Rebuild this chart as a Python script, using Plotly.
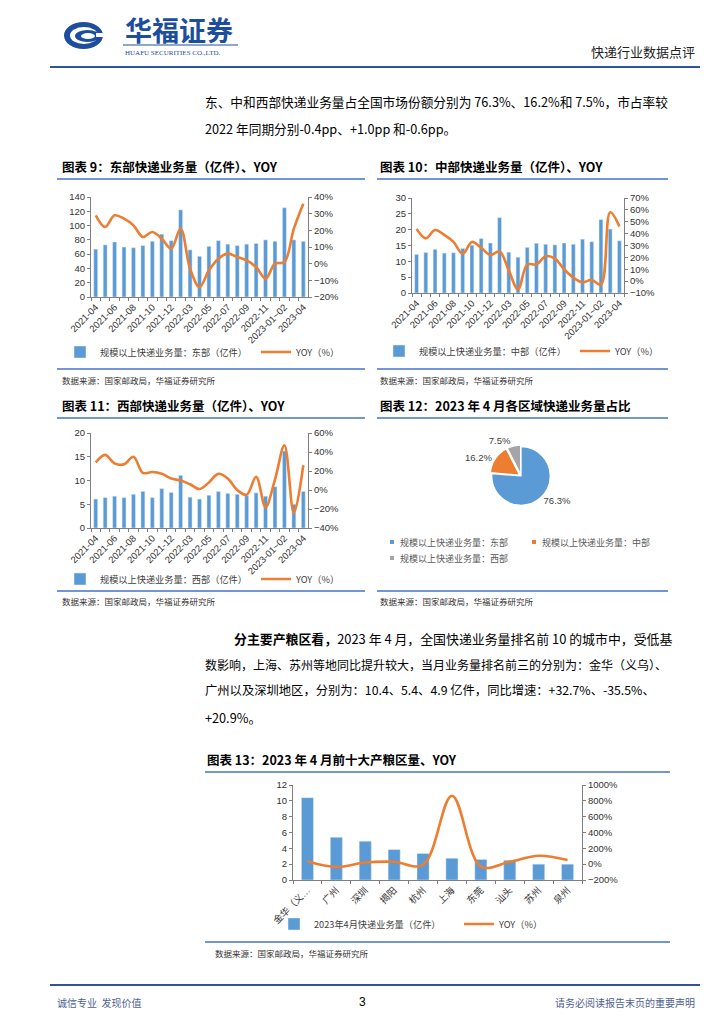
import plotly.graph_objects as go

# ---------------- data ----------------
months = ["2021-04", "2021-05", "2021-06", "2021-07", "2021-08", "2021-09", "2021-10",
          "2021-11", "2021-12", "2022-01~02", "2022-03", "2022-04", "2022-05", "2022-06",
          "2022-07", "2022-08", "2022-09", "2022-10", "2022-11", "2022-12", "2023-01~02",
          "2023-03", "2023-04"]
month_ticklabels = ["2021-04", "", "2021-06", "", "2021-08", "", "2021-10", "", "2021-12", "",
                    "2022-03", "", "2022-05", "", "2022-07", "", "2022-09", "", "2022-11", "",
                    "2023-01~02", "", "2023-04"]

east_vol = [67, 73, 77, 70, 69, 72, 78, 88, 79, 122, 66, 57, 71, 79, 74, 72, 74, 75, 80, 78, 125, 80, 78]
east_yoy = [29, 22, 29, 27, 23, 16, 19, 15, 9, 21, -3, -14, -4, 3, 6, 4, 2, -2, -9, 0, 1, 21, 36]

central_vol = [12.2, 12.8, 13.8, 12.6, 12.7, 14.1, 15.1, 17.2, 15.8, 23.8, 12.9, 11.3, 14.4, 15.7,
               15.4, 15.2, 15.8, 15.4, 17.0, 16.2, 23.2, 20.2, 16.5]
central_yoy = [44, 36, 43, 39, 33, 23, 33, 28, 22, 25, 9, -7, 14, 14, 21, 19, 10, 3, -1, 1, -3, 58, 46]

west_vol = [6.1, 6.4, 6.7, 6.4, 7.1, 7.7, 6.4, 8.3, 7.5, 11.1, 6.5, 6.1, 6.9, 7.7, 7.3, 7.1, 6.8,
            7.4, 6.7, 8.7, 16.2, 5.0, 7.7]
west_yoy = [29, 37, 28, 27, 35, 18, 19, 17, 12, 10, 6, 1, 8, 17, 12, 0, -5, 14, -18, 11, 47, -24, 26]

regions = ["规模以上快递业务量：东部", "规模以上快递业务量：中部", "规模以上快递业务量：西部"]
region_share = [76.3, 16.2, 7.5]

cities = ["金华（义乌）", "广州", "深圳", "揭阳", "杭州", "上海", "东莞", "汕头", "苏州", "泉州"]
city_ticklabels = ["金华（义…", "广州", "深圳", "揭阳", "杭州", "上海", "东莞", "汕头", "苏州", "泉州"]
city_vol = [10.4, 5.4, 4.9, 3.85, 3.35, 2.75, 2.6, 2.5, 2.0, 2.0]
city_yoy = [32.7, -35.5, 20.9, 30, -10, 865, -30, 30, 107, 52]

# ---------------- helpers ----------------
PAGE_W, PAGE_H = 724, 1024
OFF = 8                      # default page margin around the plot div
W, H = PAGE_W - 2 * OFF, PAGE_H - 2 * OFF
CJK = "Noto Sans CJK SC"
NUMFONT = "Liberation Sans, Noto Sans CJK SC"
BLUE = "#5B9BD5"
ORANGE = "#ED7D31"
GRAY = "#A5A5A5"
NAVY = "#1D4E9E"
RULE = "#4472C4"


def X(p):
    return (p - OFF) / W


def Y(p):
    return 1 - (p - OFF) / H


def txt(x, y, s, size=13, color="#000000", anchor="left", bold=False, family=CJK, yanchor="middle"):
    return dict(x=X(x), y=Y(y), xref="paper", yref="paper",
                text=("<b>%s</b>" % s if bold else s), showarrow=False,
                xanchor=anchor, yanchor=yanchor,
                font=dict(size=size, color=color, family=family))


def hline(x0, x1, y, color=RULE, width=1.5):
    return dict(type="line", xref="paper", yref="paper", x0=X(x0), x1=X(x1),
                y0=Y(y), y1=Y(y), line=dict(color=color, width=width))


def ellipse(x0, y0, x1, y1, color):
    return dict(type="circle", xref="paper", yref="paper", x0=X(x0), x1=X(x1),
                y0=Y(y1), y1=Y(y0), fillcolor=color, line=dict(width=0))


def rect(x0, y0, x1, y1, color):
    return dict(type="rect", xref="paper", yref="paper", x0=X(x0), x1=X(x1),
                y0=Y(y1), y1=Y(y0), fillcolor=color, line=dict(width=0))


AX_COLOR = "#7F7F7F"
XTICKFONT = dict(size=9.5, color="#333333", family=NUMFONT)
YTICKFONT = dict(size=9.5, color="#333333", family=NUMFONT)


def xaxis_cfg(x0, x1, anchor, cats, ticklabels, tickangle=-45):
    return dict(domain=[X(x0), X(x1)], anchor=anchor, type="category",
                tickmode="array", tickvals=cats, ticktext=ticklabels,
                tickangle=tickangle, tickfont=XTICKFONT, showline=True,
                linecolor=AX_COLOR, linewidth=1, ticks="outside", ticklen=3,
                tickcolor=AX_COLOR, tickson="boundaries", showgrid=False, zeroline=False,
                automargin=False)


def yaxis_cfg(y_top, y_bot, anchor, rng, dtick, side="left", suffix="", overlaying=None):
    d = dict(anchor=anchor, range=rng, dtick=dtick, side=side, ticksuffix=suffix,
             tickfont=YTICKFONT, showline=True, linecolor=AX_COLOR, linewidth=1,
             ticks="outside", ticklen=3, tickcolor=AX_COLOR, showgrid=False,
             zeroline=False, automargin=False)
    if overlaying:
        d["overlaying"] = overlaying
    else:
        d["domain"] = [Y(y_bot), Y(y_top)]
    return d


def legend_cfg(x, y):
    return dict(x=X(x), y=Y(y), xanchor="left", yanchor="middle", orientation="h",
                font=dict(size=9.2, color="#404040", family=CJK),
                bgcolor="rgba(0,0,0,0)", itemwidth=30, tracegroupgap=0)


fig = go.Figure()

# ---------------- chart 9: east ----------------
fig.add_trace(go.Bar(x=months, y=east_vol, xaxis="x", yaxis="y", width=0.42,
                     marker=dict(color=BLUE), name="规模以上快递业务量：东部（亿件）",
                     legend="legend"))
fig.add_trace(go.Scatter(x=months, y=east_yoy, xaxis="x", yaxis="y2", mode="lines",
                         line=dict(color=ORANGE, width=2.6, shape="spline"),
                         name="YOY（%）", legend="legend2"))

# ---------------- chart 10: central ----------------
fig.add_trace(go.Bar(x=months, y=central_vol, xaxis="x2", yaxis="y3", width=0.42,
                     marker=dict(color=BLUE), name="规模以上快递业务量：中部（亿件）",
                     legend="legend3"))
fig.add_trace(go.Scatter(x=months, y=central_yoy, xaxis="x2", yaxis="y4", mode="lines",
                         line=dict(color=ORANGE, width=2.6, shape="spline"),
                         name="YOY（%）", legend="legend4"))

# ---------------- chart 11: west ----------------
fig.add_trace(go.Bar(x=months, y=west_vol, xaxis="x3", yaxis="y5", width=0.42,
                     marker=dict(color=BLUE), name="规模以上快递业务量：西部（亿件）",
                     legend="legend5"))
fig.add_trace(go.Scatter(x=months, y=west_yoy, xaxis="x3", yaxis="y6", mode="lines",
                         line=dict(color=ORANGE, width=2.6, shape="spline"),
                         name="YOY（%）", legend="legend6"))

# ---------------- chart 12: pie ----------------
fig.add_trace(go.Pie(labels=regions, values=region_share, sort=False, direction="clockwise",
                     rotation=0, domain=dict(x=[X(490), X(552)], y=[Y(507), Y(445)]),
                     marker=dict(colors=[BLUE, ORANGE, GRAY], line=dict(color="white", width=1.2)),
                     pull=[0, 0.06, 0.06], textposition="outside",
                     texttemplate="%{value:.1f}%", textfont=dict(size=9.5, color="#404040", family=NUMFONT),
                     showlegend=False, hoverinfo="label+value", automargin=False))

# ---------------- chart 13: cities ----------------
fig.add_trace(go.Bar(x=cities, y=city_vol, xaxis="x4", yaxis="y7", width=0.42,
                     marker=dict(color=BLUE), name="2023年4月快递业务量（亿件）",
                     legend="legend7"))
fig.add_trace(go.Scatter(x=cities, y=city_yoy, xaxis="x4", yaxis="y8", mode="lines",
                         line=dict(color=ORANGE, width=2.6, shape="spline"),
                         name="YOY（%）", legend="legend8"))

# ---------------- axes ----------------
layout_axes = dict(
    xaxis=xaxis_cfg(91, 308, "y", months, month_ticklabels),
    yaxis=yaxis_cfg(197, 297, "x", [0, 140], 20),
    yaxis2=yaxis_cfg(None, None, "x", [-20, 40], 10, side="right", suffix="%", overlaying="y"),
    xaxis2=xaxis_cfg(412, 624, "y3", months, month_ticklabels),
    yaxis3=yaxis_cfg(198, 293, "x2", [0, 30], 5),
    yaxis4=yaxis_cfg(None, None, "x2", [-10, 70], 10, side="right", suffix="%", overlaying="y3"),
    xaxis3=xaxis_cfg(91, 308, "y5", months, month_ticklabels),
    yaxis5=yaxis_cfg(433, 528, "x3", [0, 20], 5),
    yaxis6=yaxis_cfg(None, None, "x3", [-40, 60], 20, side="right", suffix="%", overlaying="y5"),
    xaxis4=xaxis_cfg(293, 582, "y7", cities, city_ticklabels),
    yaxis7=yaxis_cfg(785, 880, "x4", [0, 12], 2),
    yaxis8=yaxis_cfg(None, None, "x4", [-200, 1000], 200, side="right", suffix="%", overlaying="y7"),
)

# ---------------- shapes ----------------
shapes = [
    # logo
    ellipse(64, 22, 103, 49, NAVY),
    ellipse(70, 27, 98, 44, "white"),
    ellipse(75, 30, 100, 42, NAVY),
    ellipse(81, 33, 95, 39, "white"),
    rect(96, 33, 104, 37, "white"),
    hline(123, 238, 45, NAVY, 1),
    # header / footer rules
    hline(50, 700, 67, "#2F5597", 2),
    hline(50, 700, 985, "#2F5597", 2),
    # title rules
    hline(57, 365, 179), hline(377, 668, 179),
    hline(57, 365, 418), hline(377, 668, 418),
    hline(205, 670, 772),
    # source rules
    hline(57, 365, 369), hline(377, 668, 369),
    hline(57, 365, 591), hline(377, 668, 591),
    hline(205, 670, 942),
    # pie legend keys
    rect(390, 540, 394, 544, BLUE),
    rect(532, 540, 536, 544, ORANGE),
    rect(390, 556, 394, 560, GRAY),
]

# ---------------- text ----------------
SRC = "数据来源：国家邮政局，华福证券研究所"
annotations = [
    txt(123, 29, "华福证券", size=27, color=NAVY, bold=True),
    txt(123, 53, "HUAFU SECURITIES CO.,LTD.", size=7, color=NAVY, family="Liberation Serif"),
    txt(697, 52, "快递行业数据点评", size=13, color="#222222", anchor="right"),
    txt(203, 101, "东、中和西部快递业务量占全国市场份额分别为 76.3%、16.2%和 7.5%，市占率较", size=12.7),
    txt(203, 128, "2022 年同期分别-0.4pp、+1.0pp 和-0.6pp。", size=12.7),
    txt(60, 166, "图表 9：东部快递业务量（亿件）、YOY", size=12.5, bold=True),
    txt(378, 166, "图表 10：中部快递业务量（亿件）、YOY", size=12.5, bold=True),
    txt(60, 380, SRC, size=8.5, color="#333333"),
    txt(378, 380, SRC, size=8.5, color="#333333"),
    txt(60, 406, "图表 11：西部快递业务量（亿件）、YOY", size=12.5, bold=True),
    txt(378, 406, "图表 12：2023 年 4 月各区域快递业务量占比", size=12.5, bold=True),
    txt(398, 542, regions[0], size=9, color="#595959"),
    txt(540, 542, regions[1], size=9, color="#595959"),
    txt(398, 558, regions[2], size=9, color="#595959"),
    txt(60, 601, SRC, size=8.5, color="#333333"),
    txt(378, 601, SRC, size=8.5, color="#333333"),
    txt(232, 638, "<b>分主要产粮区看，</b>2023 年 4 月，全国快递业务量排名前 10 的城市中，受低基", size=12.9),
    txt(203, 664, "数影响，上海、苏州等地同比提升较大，当月业务量排名前三的分别为：金华（义乌）、", size=12.0),
    txt(203, 690, "广州以及深圳地区，分别为：10.4、5.4、4.9 亿件，同比增速：+32.7%、-35.5%、", size=12.3),
    txt(203, 717, "+20.9%。", size=12.7),
    txt(205, 759, "图表 13：2023 年 4 月前十大产粮区量、YOY", size=12.5, bold=True),
    txt(213, 953, SRC, size=8.5, color="#333333"),
    txt(55, 1002, "诚信专业  发现价值", size=10, color="#4F6190"),
    txt(362, 1002, "3", size=12, color="#000000", anchor="center", family="Liberation Sans"),
    txt(697, 1002, "请务必阅读报告末页的重要声明", size=10, color="#4F6190", anchor="right"),
]

fig.update_layout(
    width=W, height=H, margin=dict(l=0, r=0, t=0, b=0, pad=0),
    paper_bgcolor="white", plot_bgcolor="white",
    font=dict(family=CJK, color="#000000"),
    shapes=shapes, annotations=annotations,
    legend=legend_cfg(60, 352),
    legend2=legend_cfg(256, 352),
    legend3=legend_cfg(379, 351),
    legend4=legend_cfg(575, 351),
    legend5=legend_cfg(60, 579),
    legend6=legend_cfg(256, 579),
    legend7=legend_cfg(274, 924),
    legend8=legend_cfg(459, 924),
    **layout_axes,
)

fig.write_html("out.html")
